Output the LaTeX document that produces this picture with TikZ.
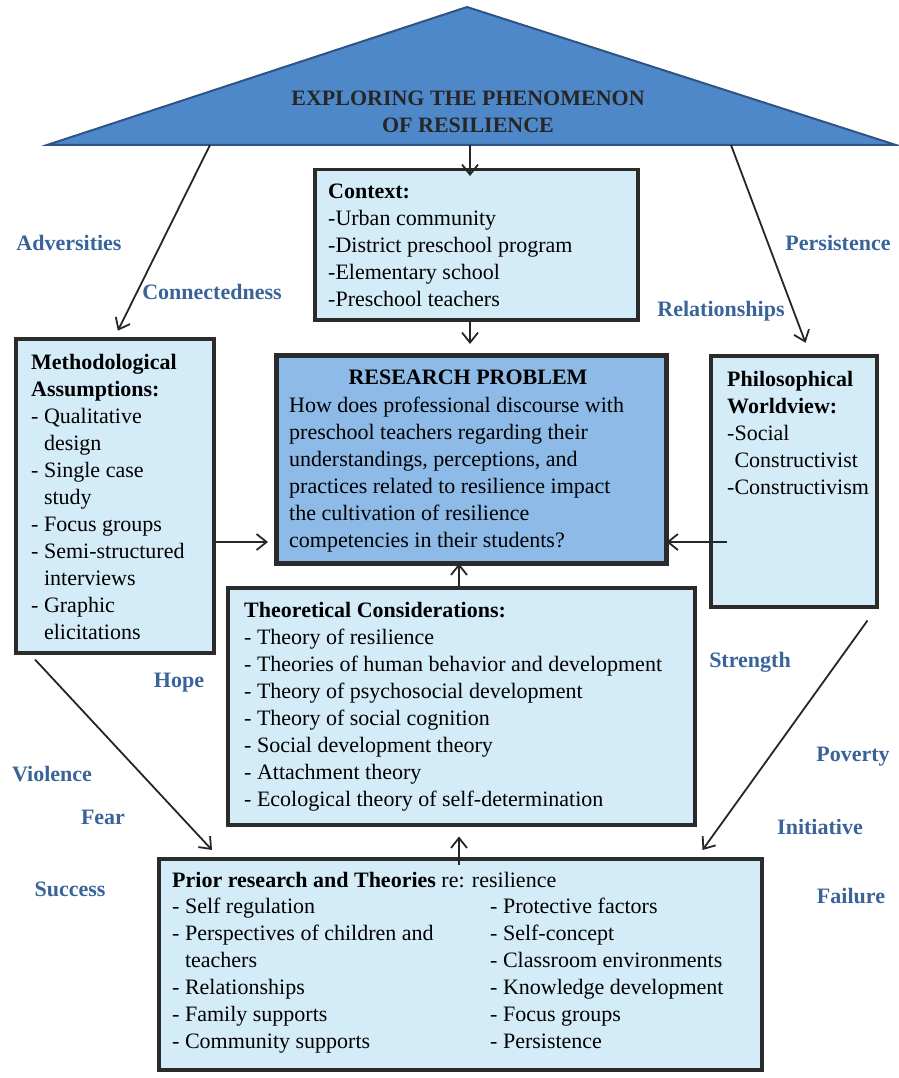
\documentclass[tikz,border=0pt]{standalone}
\usepackage{fontspec}
\setmainfont{Liberation Serif}
\usetikzlibrary{arrows.meta,calc}
\definecolor{lightbox}{HTML}{D4EBF8}
\definecolor{rpfill}{HTML}{8DBAE6}
\definecolor{trifill}{HTML}{4F88C8}
\definecolor{triline}{HTML}{2E5486}
\definecolor{boxline}{HTML}{2B2B2B}
\definecolor{labblue}{HTML}{3A6499}
\definecolor{titletext}{HTML}{262626}
\begin{document}
\begin{tikzpicture}[x=1pt,y=-1pt,
  lbox/.style={draw=boxline, line width=3.5pt, fill=lightbox, rectangle, inner sep=0pt, anchor=north west},
  txt/.style={inner sep=0pt, anchor=north west, align=left, font=\fontsize{22}{27}\selectfont},
  conn/.style={draw=black!85, line width=1.8pt, -{Straight Barb[length=10pt,width=16pt]}},
  lab/.style={font=\fontsize{22}{27}\selectfont\bfseries, text=labblue, inner sep=0pt},
]
\useasboundingbox (0,0) rectangle (898,1078);

% triangle
\coordinate (apex) at (467,7);
\coordinate (bl) at (47,145);
\coordinate (br) at (896,145);
\fill[trifill] (apex) -- (bl) -- (br) -- cycle;
\draw[triline, line width=2pt, line join=miter] (apex) -- (bl) -- (br) -- cycle;
\node[inner sep=0pt, anchor=north, align=center, text=titletext,
      font=\fontsize{22}{27}\selectfont\bfseries] (title) at (468,91)
      {EXPLORING THE PHENOMENON\\OF RESILIENCE};
\coordinate (tl) at (210,145);
\coordinate (tc) at (470,145);
\coordinate (tr) at (731,145);

% boxes
\node[lbox, minimum width=323, minimum height=150] (ctx) at (313,168) {};
\node[lbox, fill=rpfill, line width=4.5pt, minimum width=390, minimum height=208] (rp) at (274,353) {};
\node[lbox, minimum width=198, minimum height=314] (meth) at (14,337) {};
\node[lbox, minimum width=166, minimum height=251] (phil) at (709,354) {};
\node[lbox, minimum width=467, minimum height=237] (theo) at (226,586) {};
\node[lbox, minimum width=603, minimum height=211] (prior) at (157,857) {};

% texts
\node[txt] (ctxT) at (328,184) {\textbf{Context:}\\-Urban community\\-District preschool program\\-Elementary school\\-Preschool teachers};
\node[inner sep=0pt, anchor=base, font=\fontsize{22}{27}\selectfont\bfseries] (rpH) at (468,384) {RESEARCH PROBLEM};
\node[txt] (rpT) at (289,397) {How does professional discourse with\\preschool teachers regarding their\\understandings, perceptions, and\\practices related to resilience impact\\the cultivation of resilience\\competencies in their students?};
\node[txt] (methT) at (31,354) {\textbf{Methodological}\\\textbf{Assumptions:}\\- Qualitative\\\phantom{- }design\\- Single case\\\phantom{- }study\\- Focus groups\\- Semi-structured\\\phantom{- }interviews\\- Graphic\\\phantom{- }elicitations};
\node[txt] (philT) at (727,371) {\textbf{Philosophical}\\\textbf{Worldview:}\\-Social\\\phantom{-}Constructivist\\-Constructivism};
\node[txt] (theoT) at (244,602) {\textbf{Theoretical Considerations:}\\- Theory of resilience\\- Theories of human behavior and development\\- Theory of psychosocial development\\- Theory of social cognition\\- Social development theory\\- Attachment theory\\- Ecological theory of self-determination};
\node[txt] (priorH) at (172,872) {\textbf{Prior research and Theories} re: resilience};
\node[txt] (priorL) at (172,898) {- Self regulation\\- Perspectives of children and\\\phantom{- }teachers\\- Relationships\\- Family supports\\- Community supports};
\node[txt] (priorR) at (490,898) {- Protective factors\\- Self-concept\\- Classroom environments\\- Knowledge development\\- Focus groups\\- Persistence};

% connectors
\coordinate (midY) at (0,542);
\coordinate (upX) at (459,0);
\draw[conn, shorten >=-8pt] (tc) -- (tc |- ctx.north);
\draw[conn, shorten >=9pt] (tc |- ctx.south) -- (tc |- rp.north);
\draw[conn, shorten >=7pt] (tl) -- (meth.north);
\draw[conn, shorten >=12pt] (tr) -- ($(phil.north)+(16,0)$);
\draw[conn, shorten >=6pt] (meth.east |- midY) -- (rp.west |- midY);
\draw[conn, shorten >=-2pt] ($(phil.west |- midY)+(18,0)$) -- (rp.east |- midY);
\draw[conn, shorten >=-2pt] (upX |- theo.north) -- (upX |- rp.south);
\draw[conn, shorten >=10pt] ($(upX |- prior.north)+(0,8)$) -- (upX |- theo.south);
\draw[conn] ($(meth.south west)+(21,5)$) -- ($(prior.north west)+(55,-7)$);
\draw[conn] ($(phil.south east)+(-11,12)$) -- ($(prior.north east)+(-61,-7)$);

% labels
\node[lab] (lAdv) at (69,243) {Adversities};
\node[lab] (lCon) at (212,292) {Connectedness};
\node[lab] (lPer) at (838,243) {Persistence};
\node[lab] (lRel) at (721,311) {Relationships};
\node[lab] (lHope) at (179,683) {Hope};
\node[lab] (lStr) at (750,662) {Strength};
\node[lab] (lVio) at (52,774) {Violence};
\node[lab] (lFear) at (103,817) {Fear};
\node[lab] (lPov) at (853,757) {Poverty};
\node[lab] (lIni) at (820,827) {Initiative};
\node[lab] (lSuc) at (70,889) {Success};
\node[lab] (lFai) at (851,896) {Failure};
\end{tikzpicture}
\end{document}
